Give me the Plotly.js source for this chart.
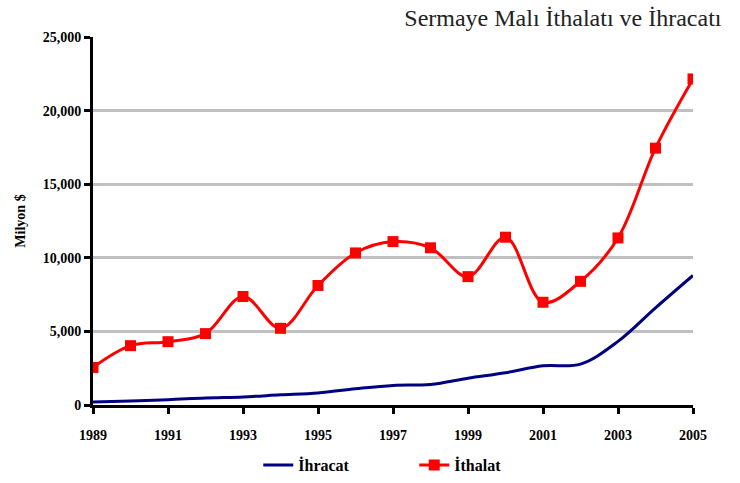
<!DOCTYPE html>
<html>
<head>
<meta charset="utf-8">
<script src="https://cdn.plot.ly/plotly-3.0.1.min.js"></script>
<style>body{margin:0;padding:0;background:#fff;}#chart{width:740px;height:483px;}</style>
</head>
<body>
<div id="chart"></div>
<script>
const years = [1989,1990,1991,1992,1993,1994,1995,1996,1997,1998,1999,2000,2001,2002,2003,2004,2005];
const ihracat = [210,280,360,480,550,690,820,1100,1330,1400,1820,2190,2660,2780,4320,6600,8800];
const ithalat = [2550,4030,4300,4850,7370,5210,8120,10330,11100,10680,8720,11400,6980,8400,11350,17450,22150];
const yTicks = [0,5000,10000,15000,20000,25000];
const xTicks = [1989,1991,1993,1995,1997,1999,2001,2003,2005];

const serif = "Liberation Serif, Times New Roman, serif";

const traces = [
  {x: years, y: ihracat, name: 'İhracat', type: 'scatter', mode: 'lines',
   line: {color: '#000080', width: 3, shape: 'spline', smoothing: 1}},
  {x: years, y: ithalat, name: 'İthalat', type: 'scatter', mode: 'lines+markers',
   line: {color: '#ff0000', width: 3, shape: 'spline', smoothing: 1},
   marker: {symbol: 'square', size: 11, color: '#ff0000'}}
];

const layout = {
  width: 740, height: 483,
  margin: {l: 93, r: 47, t: 37, b: 78},
  paper_bgcolor: '#fff', plot_bgcolor: '#fff',
  font: {family: serif, color: '#000'},
  title: {text: 'Sermaye Malı İthalatı ve İhracatı', xref: 'container', x: 0.975, xanchor: 'right',
          yref: 'container', y: 0.963, yanchor: 'middle', automargin: false,
          font: {family: serif, size: 24, color: '#222'}},
  xaxis: {range: [1989, 2005], tickvals: xTicks, ticktext: xTicks.map(String), automargin: false,
          showline: true, linecolor: '#000', linewidth: 3, ticks: 'outside', ticklen: 6, tickwidth: 3, tickcolor: '#000',
          ticklabelstandoff: 9,
          showgrid: false, zeroline: false,
          tickfont: {family: serif, size: 14, color: '#000', weight: 'bold'}},
  yaxis: {range: [0, 25000], tickvals: yTicks, ticktext: yTicks.map(v => v.toLocaleString('en-US')), automargin: false,
          showline: true, linecolor: '#000', linewidth: 3, ticks: 'outside', ticklen: 6, tickwidth: 3, tickcolor: '#000',
          showgrid: true, gridcolor: '#c0c0c0', gridwidth: 3, zeroline: false,
          tickfont: {family: serif, size: 14, color: '#000', weight: 'bold'},
          title: {text: 'Milyon $', standoff: 14, font: {family: serif, size: 14, color: '#000', weight: 'bold'}}},
  showlegend: true,
  legend: {orientation: 'h', xref: 'container', x: 0.349, xanchor: 'left',
           yref: 'container', y: 0.037, yanchor: 'middle',
           entrywidth: 111, entrywidthmode: 'pixels',
           font: {family: serif, size: 16, color: '#000', weight: 'bold'}},
  hovermode: false
};

Plotly.newPlot('chart', traces, layout, {displayModeBar: false, staticPlot: true});
</script>
</body>
</html>
